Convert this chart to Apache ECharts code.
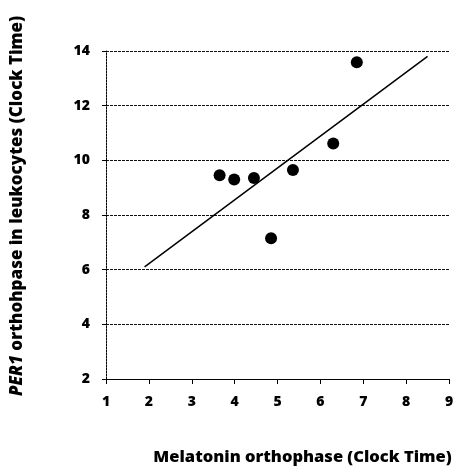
<!DOCTYPE html>
<html>
<head>
<meta charset="utf-8">
<script src="https://cdn.jsdelivr.net/npm/echarts@6/dist/echarts.min.js"></script>
<style>
  html, body { margin: 0; padding: 0; background: #fff; }
  #chart { width: 461px; height: 471px; }
</style>
</head>
<body>
<div id="chart"></div>
<script>
// melatonin orthophase (x) vs PER1 orthophase (y), clock time
var melatonin = [3.65, 3.99, 4.45, 4.85, 5.36, 6.30, 6.85];
var per1 = [9.45, 9.30, 9.35, 7.15, 9.65, 10.62, 13.59];
// fitted trend line end points
var trendX = [1.9, 8.5];
var trendY = [6.1, 13.8];

var points = melatonin.map(function (x, i) { return [x, per1[i]]; });
var trend = trendX.map(function (x, i) { return [x, trendY[i]]; });

var font = '"Open Sans", "DejaVu Sans", sans-serif';
var myChart = echarts.init(document.getElementById('chart'));
myChart.setOption({
    animation: false,
    backgroundColor: '#fff',
    grid: { left: 106, right: 12, top: 51, bottom: 91 },
    xAxis: {
        type: 'value',
        min: 1, max: 9, interval: 1,
        name: 'Melatonin orthophase (Clock Time)',
        nameLocation: 'middle',
        nameGap: 70,
        nameTextStyle: { fontFamily: font, fontWeight: 800, fontSize: 16.5, color: '#000', padding: [0, 0, 0, 50] },
        axisLine: { lineStyle: { color: '#000', width: 1 } },
        axisTick: { show: true, length: 5, lineStyle: { color: '#000' } },
        axisLabel: { fontFamily: font, fontWeight: 800, fontSize: 14, color: '#000', margin: 16 },
        splitLine: { show: false }
    },
    yAxis: {
        type: 'value',
        min: 2, max: 14, interval: 2,
        name: '{i|PER1} orthohpase in leukocytes (Clock Time)',
        nameLocation: 'middle',
        nameGap: 80,
        nameTextStyle: {
            fontFamily: font, fontWeight: 800, fontSize: 17, color: '#000', padding: [0, 0, 0, 18],
            rich: { i: { fontFamily: font, fontWeight: 800, fontStyle: 'italic', fontSize: 17, color: '#000' } }
        },
        axisLine: { show: true, lineStyle: { color: '#000', width: 1, type: [2, 1] } },
        axisTick: { show: true, length: 4, lineStyle: { color: '#000' } },
        axisLabel: { fontFamily: font, fontWeight: 800, fontSize: 14, color: '#000', margin: 16 },
        splitLine: { show: true, lineStyle: { color: '#111', width: 1, type: [3, 1] } }
    },
    series: [
        {
            type: 'line',
            data: trend,
            symbol: 'none',
            lineStyle: { color: '#000', width: 1.5 },
            z: 2
        },
        {
            type: 'scatter',
            data: points,
            symbol: 'circle',
            symbolSize: 12,
            itemStyle: { color: '#000', opacity: 1 },
            z: 3
        }
    ]
});
</script>
</body>
</html>
